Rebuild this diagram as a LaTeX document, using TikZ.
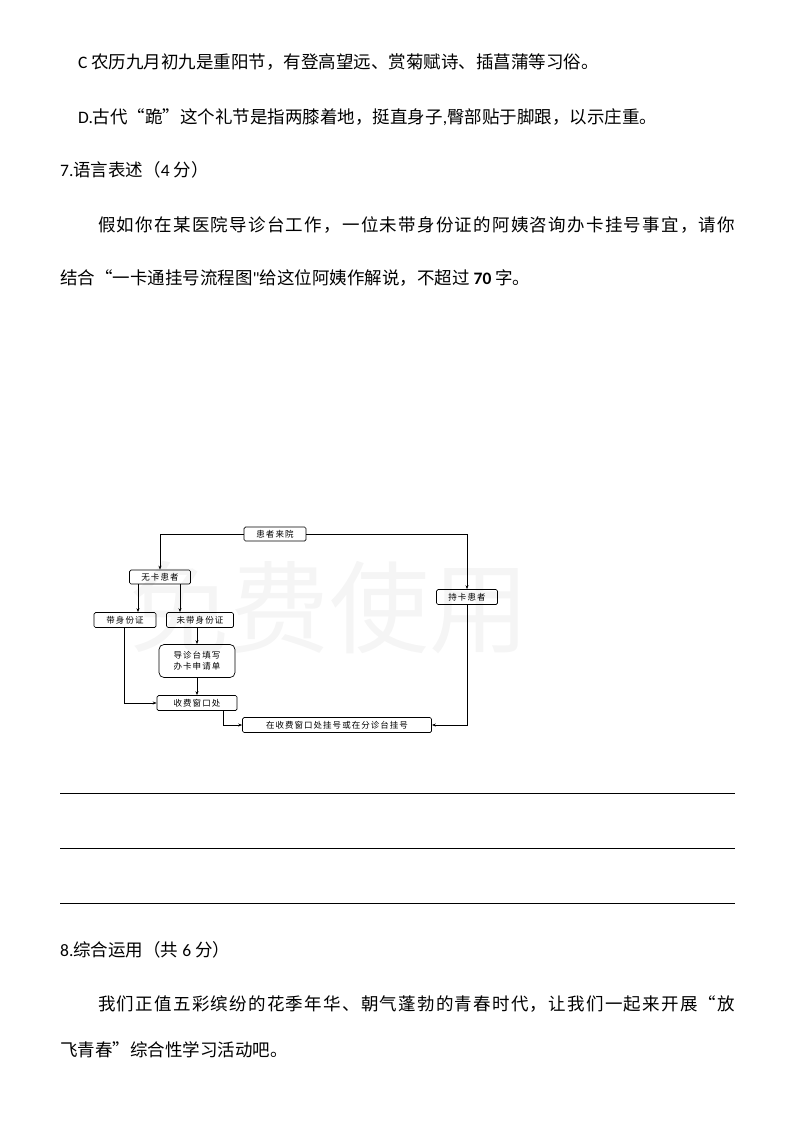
\documentclass[tikz,border=0pt]{standalone}
\usepackage{fontspec}
\setmainfont{Noto Sans CJK SC}
\newfontfamily\lat{Carlito}
\newfontfamily\fc[LetterSpace=12]{Noto Sans CJK SC}
\usetikzlibrary{arrows.meta}
\begin{document}
\begin{tikzpicture}[x=1pt,y=-1pt,
  txt/.style={anchor=west,inner sep=0pt,font=\fontsize{17.5}{20}\selectfont},
  bx/.style={draw,line width=0.7pt,rounded corners=1.5pt,inner sep=0pt,font=\fc\fontsize{8.5}{11}\selectfont},
  ar/.style={-{Stealth[length=4pt,width=3pt]},line width=0.6pt},
  ln/.style={line width=0.6pt}]
\useasboundingbox (0,0) rectangle (794,1123);
\begin{scope}
\clip (60,540) rectangle (530,680);
\node[text=black!4,font=\fontsize{100}{100}\selectfont,inner sep=0pt,anchor=east] (wm) at (530,608) {免费使用};
\end{scope}
\node[txt] (t1) at (78,62) {{\lat C} 农历九月初九是重阳节，有登高望远、赏菊赋诗、插菖蒲等习俗。};
\node[txt] (t2) at (78,117) {{\lat D.}古代“跪”这个礼节是指两膝着地，挺直身子{\lat ,}臀部贴于脚跟，以示庄重。};
\node[txt] (t3) at (60,170) {{\lat 7.}语言表述（{\lat 4} 分）};
\node[txt] (t4) at (98,225) {\makebox[637pt][s]{假\hfil 如\hfil 你\hfil 在\hfil 某\hfil 医\hfil 院\hfil 导\hfil 诊\hfil 台\hfil 工\hfil 作\hfil ，\hfil 一\hfil 位\hfil 未\hfil 带\hfil 身\hfil 份\hfil 证\hfil 的\hfil 阿\hfil 姨\hfil 咨\hfil 询\hfil 办\hfil 卡\hfil 挂\hfil 号\hfil 事\hfil 宜\hfil ，\hfil 请\hfil 你}};
\node[txt] (t5) at (60,278) {结合“一卡通挂号流程图{\lat "}给这位阿姨作解说，不超过 {\lat\bfseries 70} 字。};
\node[txt] (t6) at (60,950) {{\lat 8.}综合运用（共 {\lat 6} 分）};
\node[txt] (t7) at (98,1004) {\makebox[637pt][s]{我\hfil 们\hfil 正\hfil 值\hfil 五\hfil 彩\hfil 缤\hfil 纷\hfil 的\hfil 花\hfil 季\hfil 年\hfil 华\hfil 、\hfil 朝\hfil 气\hfil 蓬\hfil 勃\hfil 的\hfil 青\hfil 春\hfil 时\hfil 代\hfil ，\hfil 让\hfil 我\hfil 们\hfil 一\hfil 起\hfil 来\hfil 开\hfil 展\hfil “\hfil 放}};
\node[txt] (t8) at (60,1050) {飞青春”综合性学习活动吧。};
\foreach \yy in {793,848,903} \draw[line width=0.6pt] (60,\yy) -- (735,\yy);
% flowchart
\node[bx,minimum width=62pt,minimum height=14pt] (a) at (275,534) {患者来院};
\node[bx,minimum width=61pt,minimum height=14pt] (b) at (160,577) {无卡患者};
\node[bx,minimum width=61pt,minimum height=15pt] (c) at (467,597) {持卡患者};
\node[bx,minimum width=62pt,minimum height=15pt] (d) at (125,620) {带身份证};
\node[bx,minimum width=67pt,minimum height=15pt] (e) at (200,620) {未带身份证};
\node[bx,rounded corners=5pt,minimum width=76pt,minimum height=33pt,align=center] (f) at (197,661) {导诊台填写\\办卡申请单};
\node[bx,minimum width=80pt,minimum height=15pt] (g) at (197,703) {收费窗口处};
\node[bx,minimum width=189pt,minimum height=15pt] (h) at (337,725) {在收费窗口处挂号或在分诊台挂号};
\draw[ar] (a.west) -| (b.north);
\draw[ar] (a.east) -| (c.north);
\draw[ar] (138,584) coordinate (b1) -- (b1 |- d.north);
\draw[ar] (180,584) coordinate (b2) -- (b2 |- e.north);
\draw[ar] (e.south -| f.north) -- (f.north);
\draw[ar] (f.south) -- (g.north);
\draw[ar] (d.south) ++(-1,0) coordinate (d1) |- (g.west);
\draw[ar] (g.south) ++(26,0) coordinate (g1) |- (h.west);
\draw[ar] (c.south) |- (h.east);
\end{tikzpicture}
\end{document}
